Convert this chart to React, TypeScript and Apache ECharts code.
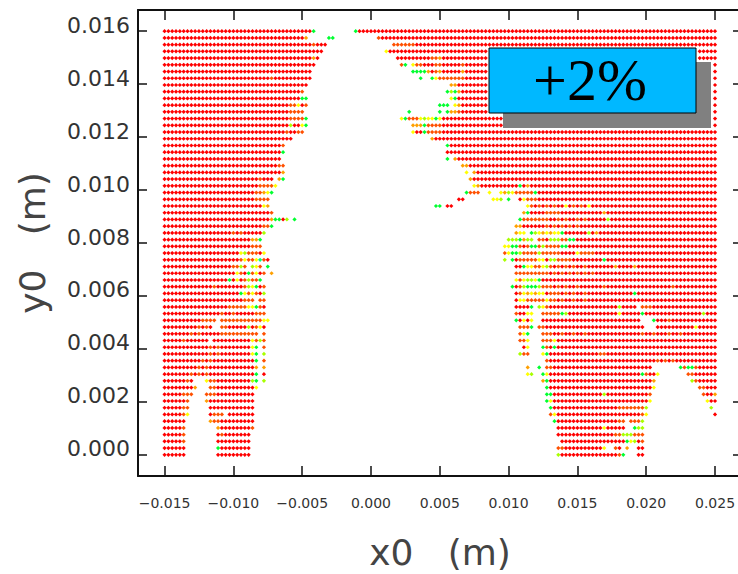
import React, { useEffect, useRef } from "react";
import * as echarts from "echarts";

const xTicks = [-0.015, -0.01, -0.005, 0, 0.005, 0.01, 0.015, 0.02, 0.025];
const yTicks = [0, 0.002, 0.004, 0.006, 0.008, 0.01, 0.012, 0.014, 0.016];
const xRange = [-0.01693, 0.02696];
const yRange = [-0.0008, 0.0168];
const xFirst = -0.015;
const xLast = 0.025;
const columnCount = 145;
const yTop = 0.016;
const yBottom = 0;
const levelColours: Record<string, string> = {
  r: "#ff0000",
  t: "#ff5000",
  o: "#ffa000",
  y: "#ffff00",
  l: "#a8ff00",
  g: "#00ff30",
  s: "#00ff80",
};
// one line per row of the grid, top row first: colour letter + column or column range; later tokens overwrite.
// Dots hidden behind the label box in the picture cannot be read, so they are not listed.
const rowRuns: string[] = [
  "r0-38 g39 g50 r51-144",
  "r0-36 o37 g43 g44 t56 r57-144",
  "r0-42 t39 t60-65 r66-144",
  "r0-41 y58 r59-84 r140-144",
  "r0-40 o39 r61-84 t70 t71 o72 r140-144",
  "r0-39 t62 g63 y65 t66-67 r68-84 t71 t72 t78 r144",
  "r0-38 g65-68 o69 r70-84 t71 o72 o78 r144",
  "r0-38 t28 g67 g70 y71 t72-78 r79-84 r144",
  "r0-37 o75 o76 r77-84 r144",
  "r0-36 t36 g74 l75 g76 o77 r78-84 r144",
  "r0-35 g36-37 y75 g76 r77-84 r144",
  "r0-37 t33-34 y35 t37 g72-74 y76 o77 r78-84 r144",
  "r0-36 t33-36 g64 g72 g74 o75 o76 t77 r78-84 r144",
  "r0-37 t33-36 g37 y62 g63 t64-66 y67 l68 y69-70 g71 y72 r73-88 r144",
  "r0-32 l33 r34-35 y36 g37 o65-67 g68 t69-72 r73-88 r144",
  "r0-36 t32 t35-36 y65 r66-67 g68 t69-72 r73-144",
  "r0-33 o70 r71-144",
  "r0-31 t31 g74 r75-144",
  "r0-30 g31 r74-144",
  "r0-30 g74 o76 r77-144",
  "r0-31 t30-31 o78-79 r80-144",
  "r0-30 o31 y79 o81 r82-144",
  "r0-28 t25 o30 g31 o80 r81-144",
  "r0-29 t25-28 y29 y81 o82 r83-144 g93 o95",
  "r0-23 t24-25 o26 y27 g28 g79 t80-82 y85 y88 o89 l90 y91 t92-96 g97 r98-144",
  "r0-27 t24-27 r77-78 y86-87 l88 g90 r93 y94 t95-97 r98-144",
  "r0-27 y26 o27 g71-72 r74-75 y95 t96 t98 t100 t102 y105 t107 t109 y111 r97 r99 r101 r103-104 r106 r108 r110 r112-144",
  "r0-28 t28 o94 g95 r96-144 t100-103 o115",
  "r0-27 o28 g29-30 r31 l32 g34 g93 t94-100 r101-144 t103 t105 t108 t110 l116",
  "r0-26 t26-27 g28 o92-93 r94-144 t100 t102 t104 t106 t108",
  "r0-25 t18 t20 l26 o92 y93-94 g96 l97 y98 o99 y100 o101 y102-103 g104 r105-144 l111 o113",
  "r0-22 o23-24 g25 l90-92 g93 o94 l95-96 t98-99 r100 l101-103 t104-105 g106-107 r108-144",
  "r0-22 t23-25 y89-90 g91-92 t93 r94 t95 g96-97 t98 l99 t100-103 g104-105 r106-144",
  "r0-19 y20 l21 t22-24 r25 y26 t89 y90 g91-92 l93 t94-97 l98 t99-103 r104-107 y108 t109-112 r113-144",
  "r0-19 t20 y21 t22-23 y24 s25 t26 r27 l89 g91 r92 t93-97 y98-99 r100 l101-102 t103-106 r107-144 g115",
  "r0-17 t18-19 l20 t21 l23 y24 t25 g27 r92-93 g94 y95-96 t97-98 y99 l100 r101-144 t101 t103 t105 t107 t110 o118 o123",
  "r0-18 y19 t20 r21 g22 t23 y24 r25 t26 o28 t92-100 r101-144 t102 t104 t106 t108 t110 t112",
  "r0-16 g17 r18 y19 r20 t21 l22 t23-24 g25 y92 t93 y94 l95-96 y97 g98 r99-144",
  "r0-21 t13 t21 l22 y23 g24 r25 t26 g91 r92 t93 l94 g95-97 l98 t99-101 r102-144 t103 t105 t108 t115 t133",
  "r0-19 g20 y21 t22 y23 t24 r25 l26 r92 t93 y94 o95 y96 o97 y98-99 r100 t101-103 r104-144 t105 t107 t110 g123",
  "r0-20 t21-23 t25-26 r92 y93-94 t95-99 y100 t101-102 r103-144 t104 t107 t110",
  "r0-16 t17-21 y22-23 g24 t25 r26 r92-95 g96 l98 y99 t100 r101-123 l119 t125-127 r128-144",
  "r0-14 t15 r16-17 t18 r19-23 t24-26 t92 r93-94 y95 y96 t99-103 g104 l105 r106-144 y119 g125 l141",
  "r0-9 t10-13 t15-21 t22-25 y26-27 g92 r93 y94 r95 y96 r99-124 g128 r129-144 t132",
  "r0-8 t9 r10 t11 r12 t15-16 r17-21 l22 r23 t24 y25 r26 t93-95 g96 t98-99 r100-125 r129-144 y139",
  "r0-6 t7 r8 t9 r10-14 t15-24 t26 t93 y94 g95 t99-101 r102-144 t104 t107 t110 t125 t128 t132 t135",
  "r0-4 t5 r6-11 r13-22 y23 t24 l25 t26 t93-94 y95 t99-101 y102 r103-144",
  "r0-11 t12 r13 t14 r15-22 y23 g24 t26 r94 y95 g99 t100 r101 g102 r103-144",
  "r0-11 t12 r13 t14 r15-22 y23 g24 l26 l93 t94-95 y99 g100 r101-144 t114-115",
  "r0-9 t10 r11 t12 r13-23 g24 t26 t100 r101-144 t129 t131 t133",
  "r0-8 t9 r10 t11 r12-23 o24 o26 o95 g98 t100-101 r102-127 g135 t136 g137-138 t139 r140-144",
  "r0-6 t7 r8 t9 r10 t11 r12-23 g24 r26 y95 l96 g99 y100 r101-124 g125 t126 r127-128 y129 t137-138 r139-144",
  "r0-5 t6 r7 y11 t12-13 r14-22 l23 g24 l26 o99 g100 r101-127 o128 l138 t139 r140-144",
  "r0-7 o8 t12-13 r14-23 y24 g100 r101-127 y128 t140-141 r142-144",
  "r0-4 t5-7 t11-13 r14-23 g100-101 r102-126 l115 t127 t141 r142-143 o144",
  "r0-5 t6 o11 r12-23 g100 y101 r102-126 y127 y142 r143-144",
  "r0-4 t5-6 r12-23 g101 r102-118 t119-125 l126 l143",
  "r0-4 t5 y6 r12 t13-15 r17-23 t101 y102 r103-124 t125 y126 r144",
  "r0-5 o12 t13-14 r15-23 g102 r103-118 t119-120 t122-124 l125",
  "r0-4 t5 o14 r15-22 t23 r103-114 y115 r116-120 g123 l124-125",
  "r0-4 t5 r14 t15 r16-22 r103-117 t118-119 l120-122 t123-125",
  "r0-4 t5 r14-22 r104-120 g121 y122 l123 r124 t125",
  "r0-5 g14 r15-22 t103-104 r105-114 y115 t118 r119 o121 r124-125",
  "r0-5 r14-22 l103 r104-118 t119 g120 r124-125",
];

function parseRow(line: string): Map<number, string> {
  const cells = new Map<number, string>();
  for (const token of line.split(" ")) {
    const [a, b] = token.slice(1).split("-").map(Number);
    for (let c = a; c <= (b ?? a); c++) cells.set(c, token[0]);
  }
  return cells;
}

const dots: { value: [number, number]; itemStyle: { color: string; opacity: number } }[] = [];
rowRuns.forEach((line, k) => {
  const y = yTop + ((yBottom - yTop) * k) / (rowRuns.length - 1);
  parseRow(line).forEach((level, c) => {
    const x = xFirst + ((xLast - xFirst) * c) / (columnCount - 1);
    dots.push({ value: [x, y], itemStyle: { color: levelColours[level], opacity: 1 } });
  });
});

const tickFont = "'DejaVu Sans'";
const fmt = (v: number) => (v < 0 ? "\u2212" : "") + Math.abs(v).toFixed(3);
const line = { show: true, onZero: false, lineStyle: { color: "#111", width: 2 } };
const tick = (vals: number[], len: number) => ({
  show: true,
  inside: true,
  length: len,
  customValues: vals,
  lineStyle: { color: "#111", width: 1.5 },
});

export default function App() {
  const ref = useRef<HTMLDivElement>(null);
  useEffect(() => {
    document.body.style.margin = "0";
    const chart = echarts.init(ref.current!, undefined, { renderer: "svg" });
    chart.setOption({
      animation: false,
      backgroundColor: "#fff",
      grid: { left: 138, top: 10, width: 604, height: 466, containLabel: false, outerBoundsMode: "none" },
      xAxis: [
        {
          type: "value",
          position: "bottom",
          min: xRange[0],
          max: xRange[1],
          axisLine: line,
          axisTick: tick(xTicks, 10),
          splitLine: { show: false },
          axisLabel: {
            customValues: xTicks,
            formatter: fmt,
            margin: 20,
            fontFamily: tickFont,
            fontSize: 14,
            color: "#333",
          },
          name: "x0   (m)",
          nameLocation: "middle",
          nameGap: 58,
          nameTextStyle: { fontFamily: tickFont, fontSize: 36, color: "#444" },
        },
        {
          type: "value",
          position: "top",
          min: xRange[0],
          max: xRange[1],
          axisLine: line,
          axisTick: tick(xTicks, 10),
          axisLabel: { show: false },
          splitLine: { show: false },
        },
      ],
      yAxis: [
        {
          type: "value",
          position: "left",
          min: yRange[0],
          max: yRange[1],
          axisLine: line,
          axisTick: tick(yTicks, 9),
          splitLine: { show: false },
          axisLabel: {
            customValues: yTicks,
            formatter: fmt,
            margin: 8,
            verticalAlign: "bottom",
            lineHeight: 12,
            fontFamily: tickFont,
            fontSize: 22,
            color: "#333",
          },
          name: "y0   (m)",
          nameLocation: "middle",
          nameGap: 88,
          nameTextStyle: { fontFamily: tickFont, fontSize: 36, color: "#444" },
        },
        {
          type: "value",
          position: "right",
          min: yRange[0],
          max: yRange[1],
          axisLine: line,
          axisTick: tick(yTicks, 9),
          axisLabel: { show: false },
          splitLine: { show: false },
        },
      ],
      series: [
        {
          type: "scatter",
          symbol: "diamond",
          symbolSize: 4.2,
          data: dots,
          xAxisIndex: 0,
          yAxisIndex: 0,
          z: 2,
          progressive: 0,
          large: false,
        },
      ],
      graphic: {
        z: 100,
        silent: true,
        elements: [
          { type: "rect", shape: { x: 503, y: 62, width: 208, height: 66 }, style: { fill: "#808080", opacity: 1 } },
          {
            type: "rect",
            shape: { x: 489, y: 48, width: 207, height: 65 },
            style: { fill: "#00b8ff", stroke: "#000", lineWidth: 1, opacity: 1 },
          },
          {
            type: "text",
            x: 590,
            y: 80,
            style: {
              text: "+2%",
              fontFamily: "'Liberation Serif'",
              fontSize: 60,
              fill: "#000",
              align: "center",
              verticalAlign: "middle",
            },
          },
        ],
      },
    });
    return () => chart.dispose();
  }, []);
  return <div ref={ref} style={{ width: 738, height: 574 }} />;
}
